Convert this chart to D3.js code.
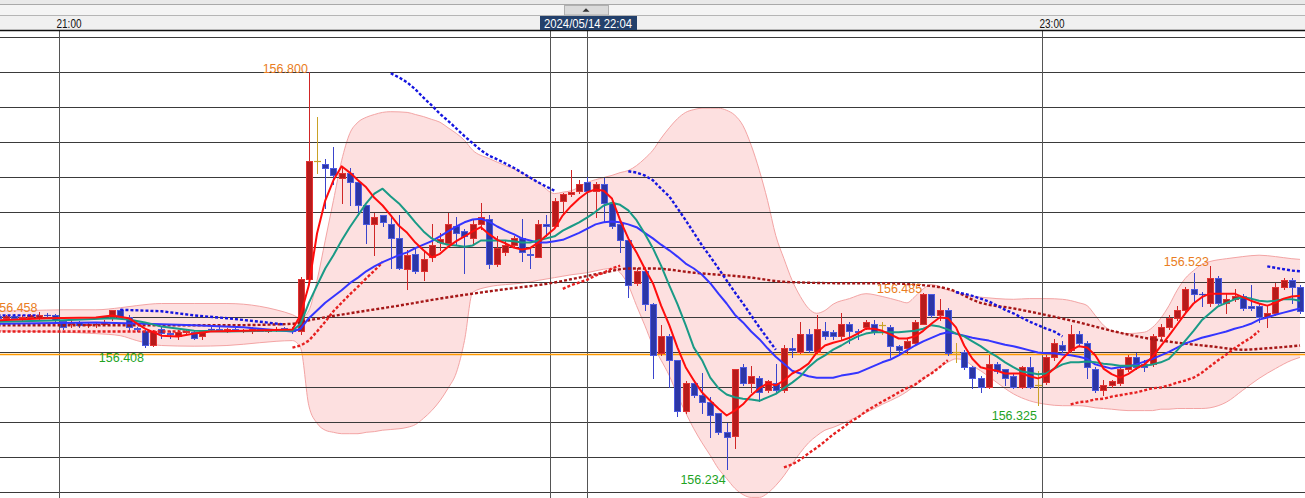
<!DOCTYPE html>
<html><head><meta charset="utf-8">
<script src="https://cdn.jsdelivr.net/npm/d3@7/dist/d3.min.js"></script>
<style>
html,body{margin:0;padding:0;background:#fff;overflow:hidden}
svg{display:block}
text{font-family:"Liberation Sans",Arial,sans-serif}
</style></head><body>
<svg id="c" width="1305" height="498"></svg>
<script>
// ---------------- DATA ----------------
const firstMinute = -8; // minutes from 21:00 of the first candle
const hourTicks = [0, 60, 120];
const hourLabels = ["21:00", "22:00", "23:00"];
const cursorMinute = 64;
const cursorLabel = "2024/05/14 22:04";
const refLine = 156.397;

const open = [
156.452,156.450,156.452,156.449,156.451,156.449,156.454,156.453,
156.445,156.440,156.443,156.439,156.440,156.441,156.449,156.460,156.451,156.435,
156.430,156.411,156.433,156.428,156.424,156.429,156.429,156.423,156.434,156.434,
156.432,156.433,156.431,156.432,156.433,156.431,156.432,156.435,156.433,156.431,
156.505,156.674,156.670,156.663,156.649,156.656,156.644,156.610,156.584,156.596,
156.584,156.564,156.519,156.540,156.517,156.536,156.558,156.557,156.581,156.574,
156.563,156.584,156.591,156.527,156.543,156.553,156.563,156.541,156.537,156.584,
156.581,156.616,156.627,156.630,156.643,156.631,156.641,156.613,156.583,156.561,
156.499,156.516,156.469,156.399,156.423,156.389,156.316,156.356,156.339,156.329,
156.313,156.286,156.280,156.379,156.356,156.364,156.346,156.356,156.346,156.406,
156.401,156.426,156.401,156.430,156.429,156.423,156.441,156.431,156.436,156.441,
156.439,156.436,156.409,156.407,156.414,156.441,156.484,156.453,156.461,156.400,
156.400,156.379,156.364,156.351,156.383,156.376,156.366,156.351,156.379,156.353,
156.358,156.393,156.411,156.404,156.427,156.414,156.377,156.346,156.354,156.357,
156.376,156.393,156.384,156.384,156.423,156.436,156.449,156.461,156.490,156.484,
156.470,156.507,156.470,156.476,156.481,156.467,156.467,156.451,156.456,156.494,156.504,156.493];
const high = [
156.455,156.454,156.455,156.453,156.455,156.458,156.456,156.455,
156.447,156.446,156.445,156.443,156.444,156.446,156.461,156.462,156.453,156.437,
156.432,156.432,156.436,156.431,156.432,156.433,156.431,156.432,156.436,156.436,
156.435,156.435,156.434,156.436,156.435,156.434,156.436,156.437,156.436,156.508,
156.800,156.737,156.677,156.694,156.664,156.664,156.647,156.611,156.599,156.597,
156.596,156.596,156.546,156.549,156.546,156.584,156.570,156.599,156.594,156.577,
156.589,156.614,156.596,156.567,156.560,156.567,156.591,156.549,156.589,156.597,
156.621,156.628,156.660,156.647,156.650,156.643,156.649,156.620,156.586,156.564,
156.520,156.519,156.470,156.439,156.426,156.390,156.359,156.360,156.371,156.336,
156.314,156.299,156.377,156.384,156.381,156.366,156.361,156.384,156.410,156.421,
156.443,156.433,156.453,156.443,156.432,156.456,156.443,156.434,156.446,156.447,
156.443,156.439,156.410,156.419,156.446,156.485,156.484,156.476,156.464,156.414,
156.403,156.381,156.366,156.396,156.386,156.377,156.369,156.381,156.393,156.374,
156.397,156.420,156.416,156.439,156.430,156.416,156.379,156.361,156.361,156.380,
156.397,156.399,156.389,156.427,156.441,156.454,156.467,156.494,156.513,156.486,
156.523,156.510,156.484,156.490,156.484,156.496,156.470,156.466,156.499,156.506,156.506,156.496];
const low = [
156.448,156.447,156.448,156.446,156.449,156.447,156.450,156.445,
156.434,156.437,156.436,156.436,156.437,156.439,156.447,156.450,156.431,156.430,
156.408,156.409,156.421,156.421,156.419,156.426,156.419,156.419,156.430,156.430,
156.429,156.430,156.429,156.428,156.430,156.429,156.430,156.432,156.428,156.427,
156.503,156.656,156.607,156.641,156.613,156.610,156.596,156.556,156.539,156.581,
156.521,156.519,156.491,156.514,156.503,156.531,156.546,156.556,156.554,156.513,
156.553,156.577,156.520,156.524,156.539,156.550,156.531,156.520,156.537,156.566,
156.580,156.598,156.624,156.628,156.629,156.593,156.586,156.578,156.543,156.479,
156.497,156.460,156.364,156.397,156.351,156.309,156.313,156.336,156.313,156.279,
156.284,156.234,156.264,156.354,156.343,156.331,156.343,156.344,156.344,156.394,
156.399,156.401,156.399,156.420,156.420,156.420,156.414,156.419,156.433,156.427,
156.427,156.394,156.396,156.399,156.411,156.440,156.451,156.446,156.397,156.386,
156.376,156.349,156.344,156.349,156.370,156.353,156.349,156.349,156.349,156.325,
156.355,156.390,156.401,156.401,156.411,156.364,156.343,156.339,156.350,156.354,
156.373,156.376,156.374,156.381,156.420,156.433,156.446,156.459,156.474,156.467,
156.467,156.469,156.457,156.473,156.461,156.460,156.443,156.436,156.453,156.491,156.471,156.457];
const close = [
156.450,156.452,156.449,156.451,156.453,156.454,156.453,156.446,
156.437,156.444,156.439,156.440,156.441,156.443,156.460,156.451,156.436,156.434,
156.410,156.430,156.428,156.427,156.429,156.430,156.421,156.430,156.433,156.432,
156.433,156.431,156.432,156.433,156.431,156.433,156.434,156.433,156.431,156.505,
156.674,156.674,156.664,156.654,156.656,156.643,156.611,156.583,156.594,156.586,
156.563,156.520,156.539,156.516,156.534,156.554,156.562,156.583,156.571,156.567,
156.584,156.593,156.527,156.549,156.554,156.563,156.543,156.539,156.583,156.581,
156.617,156.627,156.629,156.641,156.631,156.641,156.614,156.580,156.561,156.496,
156.516,156.469,156.397,156.423,156.389,156.316,156.357,156.339,156.329,156.311,
156.286,156.279,156.376,156.356,156.366,156.343,156.359,156.346,156.407,156.404,
156.426,156.403,156.433,156.424,156.424,156.441,156.431,156.429,156.444,156.429,
156.439,156.409,156.404,156.416,156.443,156.484,156.453,156.461,156.399,156.400,
156.379,156.364,156.351,156.383,156.374,156.364,156.351,156.379,156.351,156.353,
156.393,156.413,156.404,156.427,156.414,156.379,156.346,156.354,156.359,156.376,
156.394,156.379,156.379,156.423,156.436,156.449,156.461,156.490,156.484,156.483,
156.507,156.470,156.476,156.481,156.464,156.463,156.451,156.456,156.494,156.504,156.493,156.459];

// fast MA (red)  [minute, price]
const maFast = [[-8,156.446],[-2,156.449],[4,156.450],[6,156.453],[8,156.449],[10,156.434],[12,156.424],[14,156.423],[16,156.427],[18,156.430],[22,156.431],[28,156.433],[29,156.454],[30,156.496],[31,156.570],[32,156.617],[33,156.646],[34,156.666],[35,156.657],[36,156.646],[37,156.636],[38,156.621],[39,156.610],[40,156.596],[41,156.581],[42,156.571],[43,156.557],[44,156.546],[45,156.536],[46,156.541],[47,156.551],[48,156.559],[49,156.566],[50,156.573],[51,156.579],[52,156.569],[53,156.561],[54,156.556],[55,156.550],[56,156.547],[57,156.549],[58,156.557],[59,156.567],[60,156.577],[61,156.596],[62,156.609],[63,156.620],[64,156.629],[65,156.633],[66,156.631],[67,156.620],[68,156.589],[69,156.563],[70,156.543],[71,156.520],[72,156.499],[73,156.467],[74,156.439],[75,156.407],[76,156.379],[77,156.360],[78,156.343],[79,156.331],[80,156.320],[81,156.310],[82,156.317],[83,156.326],[84,156.339],[85,156.349],[86,156.356],[87,156.353],[88,156.360],[89,156.370],[90,156.376],[91,156.384],[92,156.400],[93,156.410],[94,156.414],[95,156.417],[96,156.421],[97,156.427],[98,156.434],[99,156.434],[100,156.431],[101,156.426],[102,156.420],[103,156.420],[104,156.423],[105,156.431],[106,156.441],[107,156.450],[108,156.449],[109,156.436],[110,156.410],[111,156.391],[112,156.379],[113,156.376],[114,156.374],[115,156.370],[116,156.370],[117,156.370],[118,156.366],[119,156.363],[120,156.367],[121,156.377],[122,156.391],[123,156.403],[124,156.409],[125,156.407],[126,156.396],[127,156.377],[128,156.369],[129,156.364],[130,156.369],[131,156.377],[132,156.383],[133,156.394],[134,156.409],[135,156.424],[136,156.440],[137,156.456],[138,156.470],[139,156.479],[140,156.484],[141,156.484],[142,156.484],[143,156.484],[144,156.479],[145,156.474],[146,156.470],[147,156.467],[148,156.471],[149,156.477],[150,156.480],[151,156.481]];
// middle MA (teal)
const maMid = [[-8,156.444],[0,156.446],[6,156.449],[8,156.447],[10,156.443],[12,156.437],[16,156.431],[20,156.430],[24,156.431],[28,156.431],[29,156.441],[30,156.471],[31,156.496],[32,156.520],[33,156.539],[34,156.560],[35,156.579],[36,156.596],[37,156.613],[38,156.627],[39,156.634],[40,156.623],[41,156.613],[42,156.600],[43,156.586],[44,156.573],[45,156.563],[46,156.557],[47,156.554],[48,156.553],[49,156.551],[50,156.553],[51,156.560],[52,156.560],[53,156.560],[54,156.560],[55,156.559],[56,156.557],[57,156.557],[58,156.560],[59,156.563],[60,156.566],[61,156.574],[62,156.580],[63,156.586],[64,156.593],[65,156.601],[66,156.610],[67,156.614],[68,156.611],[69,156.603],[70,156.589],[71,156.570],[72,156.549],[73,156.524],[74,156.496],[75,156.469],[76,156.439],[77,156.407],[78,156.389],[79,156.364],[80,156.349],[81,156.340],[82,156.336],[83,156.334],[84,156.333],[85,156.331],[86,156.336],[87,156.341],[88,156.349],[89,156.357],[90,156.366],[91,156.379],[92,156.389],[93,156.396],[94,156.404],[95,156.410],[96,156.417],[97,156.423],[98,156.427],[99,156.429],[100,156.429],[101,156.429],[102,156.429],[103,156.430],[104,156.431],[105,156.434],[106,156.439],[107,156.437],[108,156.433],[109,156.427],[110,156.423],[111,156.416],[112,156.409],[113,156.401],[114,156.394],[115,156.386],[116,156.379],[117,156.373],[118,156.371],[119,156.369],[120,156.370],[121,156.377],[122,156.383],[123,156.386],[124,156.386],[125,156.387],[126,156.386],[127,156.384],[128,156.383],[129,156.381],[130,156.381],[131,156.381],[132,156.381],[133,156.383],[134,156.386],[135,156.391],[136,156.403],[137,156.417],[138,156.431],[139,156.446],[140,156.456],[141,156.466],[142,156.471],[143,156.476],[144,156.479],[145,156.477],[146,156.474],[147,156.473],[148,156.474],[149,156.476],[150,156.476],[151,156.474]];
// slow MA (blue)
const maSlow = [[-8,156.441],[4,156.443],[10,156.441],[16,156.439],[22,156.436],[28,156.430],[29,156.434],[30,156.449],[31,156.460],[32,156.471],[33,156.480],[34,156.489],[35,156.499],[36,156.507],[37,156.516],[38,156.523],[39,156.529],[40,156.534],[41,156.539],[42,156.543],[43,156.549],[44,156.554],[45,156.559],[46,156.566],[47,156.573],[48,156.580],[49,156.586],[50,156.590],[51,156.591],[52,156.587],[53,156.580],[54,156.574],[55,156.569],[56,156.563],[57,156.560],[58,156.557],[59,156.557],[60,156.559],[61,156.561],[62,156.566],[63,156.571],[64,156.577],[65,156.583],[66,156.586],[67,156.587],[68,156.586],[69,156.583],[70,156.579],[71,156.571],[72,156.563],[73,156.554],[74,156.546],[75,156.537],[76,156.527],[77,156.520],[78,156.511],[79,156.499],[80,156.484],[81,156.470],[82,156.454],[83,156.443],[84,156.430],[85,156.419],[86,156.406],[87,156.394],[88,156.384],[89,156.374],[90,156.370],[91,156.366],[92,156.364],[93,156.364],[94,156.364],[95,156.367],[96,156.369],[97,156.371],[98,156.376],[99,156.381],[100,156.386],[101,156.390],[102,156.396],[103,156.403],[104,156.410],[105,156.416],[106,156.421],[107,156.426],[108,156.429],[109,156.427],[110,156.424],[111,156.421],[112,156.419],[113,156.417],[114,156.414],[115,156.411],[116,156.409],[117,156.406],[118,156.403],[119,156.400],[120,156.399],[121,156.399],[122,156.397],[123,156.396],[124,156.394],[125,156.391],[126,156.383],[127,156.380],[128,156.377],[129,156.379],[130,156.380],[131,156.383],[132,156.387],[133,156.391],[134,156.396],[135,156.401],[136,156.407],[137,156.413],[138,156.417],[139,156.421],[140,156.424],[141,156.427],[142,156.430],[143,156.434],[144,156.437],[145,156.441],[146,156.447],[147,156.450],[148,156.454],[149,156.457],[150,156.460],[151,156.463]];
// long MA (dark red dotted)
const maLong = [[-8,156.439],[8,156.439],[20,156.439],[28,156.441],[30,156.446],[35,156.456],[41,156.467],[46,156.477],[53,156.489],[60,156.500],[63,156.507],[66,156.514],[69,156.520],[72,156.520],[77,156.514],[84,156.507],[88,156.501],[95,156.499],[100,156.499],[104,156.497],[108,156.491],[112,156.471],[116,156.463],[119,156.456],[124,156.443],[128,156.431],[132,156.421],[136,156.414],[140,156.409],[144,156.404],[147,156.406],[151,156.410]];
// Bollinger band [minute, upper, lower]
const bands = [[-8,156.459,156.431],[-4,156.460,156.430],[0,156.461,156.429],[4,156.461,156.427],[7,156.464,156.424],[9,156.467,156.417],[12,156.470,156.410],[16,156.470,156.409],[20,156.470,156.410],[24,156.466,156.414],[26,156.461,156.416],[28,156.454,156.417],[29,156.449,156.406],[30,156.460,156.324],[31,156.503,156.299],[32,156.560,156.289],[33,156.617,156.286],[34,156.674,156.284],[35,156.713,156.284],[36,156.729,156.284],[37,156.736,156.286],[38,156.740,156.287],[39,156.743,156.289],[40,156.744,156.290],[42,156.743,156.293],[43,156.740,156.297],[44,156.737,156.306],[45,156.733,156.317],[46,156.729,156.331],[47,156.721,156.349],[48,156.713,156.371],[49,156.703,156.417],[50,156.689,156.486],[52,156.677,156.494],[54,156.667,156.497],[56,156.657,156.499],[58,156.643,156.503],[60,156.627,156.507],[61,156.629,156.509],[62,156.631,156.511],[64,156.643,156.514],[66,156.650,156.519],[67,156.653,156.520],[68,156.657,156.514],[69,156.660,156.496],[70,156.667,156.467],[71,156.677,156.439],[72,156.689,156.410],[73,156.706,156.389],[74,156.721,156.367],[75,156.734,156.339],[76,156.743,156.314],[77,156.747,156.291],[78,156.749,156.271],[79,156.749,156.253],[80,156.749,156.234],[81,156.746,156.220],[82,156.739,156.206],[83,156.724,156.197],[84,156.696,156.193],[85,156.660,156.193],[86,156.617,156.199],[87,156.567,156.210],[88,156.534,156.224],[89,156.503,156.241],[90,156.480,156.257],[91,156.463,156.271],[92,156.456,156.281],[93,156.460,156.289],[94,156.469,156.293],[96,156.477,156.303],[98,156.484,156.314],[100,156.480,156.326],[102,156.474,156.337],[103,156.471,156.344],[104,156.480,156.353],[105,156.491,156.361],[106,156.497,156.371],[108,156.489,156.386],[109,156.486,156.391],[110,156.483,156.389],[111,156.480,156.381],[112,156.479,156.374],[114,156.477,156.357],[116,156.476,156.341],[118,156.477,156.331],[120,156.477,156.326],[122,156.476,156.324],[124,156.471,156.324],[125,156.467,156.323],[126,156.453,156.321],[127,156.439,156.320],[128,156.431,156.319],[130,156.427,156.317],[132,156.429,156.317],[133,156.436,156.317],[134,156.449,156.319],[135,156.467,156.319],[136,156.489,156.320],[137,156.506,156.320],[138,156.517,156.320],[139,156.526,156.320],[140,156.530,156.321],[142,156.534,156.329],[144,156.537,156.346],[146,156.539,156.363],[148,156.537,156.377],[150,156.534,156.389],[151,156.533,156.393]];
// stop-and-reverse dots: above price (blue) and below price (red)
const sarAbove = [
 [[-8,156.453],[-3,156.453]],
 [[7,156.461],[12,156.459],[16,156.453],[20,156.449],[24,156.444],[27,156.440]],
 [[40,156.799],[41,156.793],[42,156.786],[43,156.776],[44,156.764],[45,156.753],[46,156.741],[47,156.731],[48,156.720],[49,156.709],[50,156.699],[51,156.689],[52,156.681],[53,156.676],[54,156.670],[55,156.664],[56,156.657],[57,156.650],[58,156.643],[59,156.637],[60,156.631]],
 [[69,156.659],[70,156.657],[71,156.653],[72,156.646],[73,156.634],[74,156.623],[75,156.606],[76,156.589],[77,156.571],[78,156.553],[79,156.537],[80,156.520],[81,156.503],[82,156.486],[83,156.470],[84,156.453],[85,156.436],[86,156.420],[87,156.404]],
 [[109,156.486],[110,156.484],[111,156.481],[112,156.477],[113,156.473],[114,156.467],[115,156.461],[116,156.456],[117,156.450],[118,156.444],[119,156.439],[120,156.434],[121,156.430],[122,156.423]],
 [[147,156.523],[148,156.521],[149,156.519],[150,156.517],[151,156.516]]];
const sarBelow = [
 [[-8,156.430],[15,156.430]],
 [[28,156.407],[29,156.410],[30,156.417],[31,156.430],[32,156.444],[33,156.459],[34,156.471],[35,156.483],[36,156.494],[37,156.506],[38,156.517],[39,156.529]],
 [[61,156.491],[62,156.496],[63,156.500],[64,156.504],[65,156.510],[66,156.514],[67,156.520],[68,156.524]],
 [[88,156.236],[89,156.240],[90,156.247],[91,156.256],[92,156.264],[93,156.273],[94,156.283],[95,156.291],[96,156.300],[97,156.307],[98,156.316],[99,156.323],[100,156.330],[101,156.336],[102,156.343],[103,156.349],[104,156.354],[105,156.363],[106,156.370],[107,156.379],[108,156.389]],
 [[123,156.326],[124,156.329],[125,156.330],[126,156.333],[127,156.334],[128,156.337],[129,156.339],[130,156.341],[131,156.343],[132,156.346],[133,156.349],[134,156.350],[135,156.353],[136,156.357],[137,156.360],[138,156.364],[139,156.371],[140,156.380],[141,156.389],[142,156.397],[143,156.406],[144,156.414],[145,156.421],[146,156.431]]];
// marked swing highs / lows
const markMinutes = [-3, 10, 30, 81, 105, 119, 140];
const markKinds   = ["high","low","high","low","high","low","high"];

// ---------------- DRAW ----------------
const W = 1305, H = 498, TOP = 30;
const svg = d3.select("#c");
const x = d3.scaleLinear().domain([0, 120]).range([59, 1042]);
const y = d3.scaleLinear().domain([156.20, 156.85]).range([492.5, 37.5]);
const cx = m => x(m + 0.5);
const candles = open.map((o, i) => ({m: firstMinute + i, o, h: high[i], l: low[i], c: close[i]}));

svg.append("defs").append("clipPath").attr("id", "plot")
  .append("rect").attr("x", 0).attr("y", TOP + 1).attr("width", W).attr("height", H - TOP);

svg.append("rect").attr("width", W).attr("height", H).attr("fill", "#fff");
const g = svg.append("g").attr("clip-path", "url(#plot)");

// Bollinger band
const area = d3.area().x(d => cx(d[0])).y0(d => y(d[2])).y1(d => y(d[1])).curve(d3.curveMonotoneX);
g.append("path").datum(bands).attr("d", area).attr("fill", "#fde0e0");
const bUp = d3.line().x(d => cx(d[0])).y(d => y(d[1])).curve(d3.curveMonotoneX);
const bLo = d3.line().x(d => cx(d[0])).y(d => y(d[2])).curve(d3.curveMonotoneX);
g.append("path").datum(bands).attr("d", bUp).attr("fill", "none").attr("stroke", "#f3a4a4").attr("stroke-width", 1);
g.append("path").datum(bands).attr("d", bLo).attr("fill", "none").attr("stroke", "#f3a4a4").attr("stroke-width", 1);

// grid
y.ticks(13).forEach(t => {
  const yy = Math.floor(y(t)) + 0.5;
  g.append("line").attr("x1", 0).attr("x2", W).attr("y1", yy).attr("y2", yy)
    .attr("stroke", "#3a3a3a").attr("stroke-width", 1);
});
hourTicks.forEach(t => {
  const xx = Math.floor(x(t)) + 0.5;
  g.append("line").attr("x1", xx).attr("x2", xx).attr("y1", TOP).attr("y2", H)
    .attr("stroke", "#555").attr("stroke-width", 1);
});
{
  const xx = Math.round(cx(cursorMinute)) + 0.5;
  g.append("line").attr("x1", xx).attr("x2", xx).attr("y1", TOP).attr("y2", H)
    .attr("stroke", "#555").attr("stroke-width", 1);
}
// reference line
g.append("line").attr("x1", 0).attr("x2", W).attr("y1", y(refLine)).attr("y2", y(refLine))
  .attr("stroke", "#ff9a00").attr("stroke-width", 1.5);

// candles
const cg = g.append("g");
candles.forEach(d => {
  const r = Math.round(cx(d.m));
  const up = d.c > d.o, doji = d.c === d.o;
  const wick = doji ? "#c9a227" : (up ? "#d02626" : "#3a44cc");
  cg.append("line").attr("x1", r + 0.5).attr("x2", r + 0.5)
    .attr("y1", Math.round(y(d.h))).attr("y2", Math.round(y(d.l)) + 1)
    .attr("stroke", wick).attr("stroke-width", 1);
  const t = Math.round(y(Math.max(d.o, d.c))), b = Math.round(y(Math.min(d.o, d.c)));
  if (doji || b - t < 1) {
    cg.append("line").attr("x1", r - 3).attr("x2", r + 4).attr("y1", t + 0.5).attr("y2", t + 0.5)
      .attr("stroke", wick).attr("stroke-width", 1.2);
  } else {
    cg.append("rect").attr("x", r - 2.5).attr("y", t + 0.5).attr("width", 6).attr("height", b - t)
      .attr("fill", up ? "#b71b1b" : "#2c36a6")
      .attr("stroke", up ? "#e23232" : "#4c5ae0").attr("stroke-width", 1);
  }
});

// dotted lines
const pl = d3.line().x(d => cx(d[0])).y(d => y(d[1]));
const plSmooth = d3.line().x(d => cx(d[0])).y(d => y(d[1])).curve(d3.curveMonotoneX);
g.append("path").datum(maLong).attr("d", plSmooth).attr("fill", "none")
  .attr("stroke", "#a51616").attr("stroke-width", 2.4).attr("stroke-dasharray", "3,2");
sarAbove.forEach(s => g.append("path").datum(s).attr("d", pl).attr("fill", "none")
  .attr("stroke", "#1515e0").attr("stroke-width", 2.4).attr("stroke-dasharray", "3,2"));
sarBelow.forEach(s => g.append("path").datum(s).attr("d", pl).attr("fill", "none")
  .attr("stroke", "#e62020").attr("stroke-width", 2.4).attr("stroke-dasharray", "3,2"));

// moving averages
[[maSlow, "#3535ff"], [maMid, "#1a9a86"], [maFast, "#ff0d0d"]].forEach(([ser, col]) => {
  g.append("path").datum(ser).attr("d", pl).attr("fill", "none")
    .attr("stroke", col).attr("stroke-width", 2).attr("stroke-linejoin", "round");
});

// swing labels
const fmt = d3.format(".3f");
markMinutes.forEach((m, i) => {
  const d = candles[m - firstMinute];
  const isHigh = markKinds[i] === "high";
  const v = isHigh ? d.h : d.l;
  g.append("text").attr("x", cx(m) - 1).attr("y", isHigh ? y(v) : y(v) + 15)
    .attr("text-anchor", "end").attr("font-size", 12.5)
    .attr("fill", isHigh ? "#e97d22" : "#22a31f").text(fmt(v));
});

// header
svg.append("rect").attr("x", 0).attr("y", 0).attr("width", W).attr("height", TOP).attr("fill", "#f0f0f0");
svg.append("rect").attr("x", 0).attr("y", 0).attr("width", W).attr("height", 4).attr("fill", "#e9e9e9");
svg.append("rect").attr("x", 0).attr("y", 5).attr("width", W).attr("height", 10).attr("fill", "#f4f4f4");
svg.append("line").attr("x1", 0).attr("x2", W).attr("y1", 4.5).attr("y2", 4.5).attr("stroke", "#a9a9a9");
svg.append("line").attr("x1", 0).attr("x2", W).attr("y1", 15.5).attr("y2", 15.5).attr("stroke", "#b5b5b5");
svg.append("line").attr("x1", 0).attr("x2", W).attr("y1", 30.5).attr("y2", 30.5).attr("stroke", "#111").attr("stroke-width", 1.4);
svg.append("rect").attr("x", 564.5).attr("y", 5.5).attr("width", 44).attr("height", 9.5)
  .attr("fill", "#dadada").attr("stroke", "#b0b0b0");
svg.append("path").attr("d", "M582.5,11.8 L589.5,11.8 L586,8.3 Z").attr("fill", "#333");

// cursor box position (hour labels hidden underneath it are not drawn, as in the reference)
const boxX = Math.round(cx(cursorMinute)) - 47, boxW = 97;
hourTicks.forEach((t, i) => {
  const lx = x(t) - 2.5;
  if (lx + 25 > boxX && lx < boxX + boxW) return;
  svg.append("text").attr("x", lx).attr("y", 28.3).attr("font-size", 12.5)
    .attr("textLength", 25).attr("lengthAdjust", "spacingAndGlyphs")
    .attr("fill", "#111").text(hourLabels[i]);
});
svg.append("rect").attr("x", boxX).attr("y", 16).attr("width", boxW).attr("height", 14).attr("fill", "#23406b");
svg.append("text").attr("x", boxX + 4).attr("y", 27.5).attr("font-size", 12.5)
  .attr("textLength", 88).attr("lengthAdjust", "spacingAndGlyphs")
  .attr("fill", "#fff").text(cursorLabel);
</script>
</body></html>
